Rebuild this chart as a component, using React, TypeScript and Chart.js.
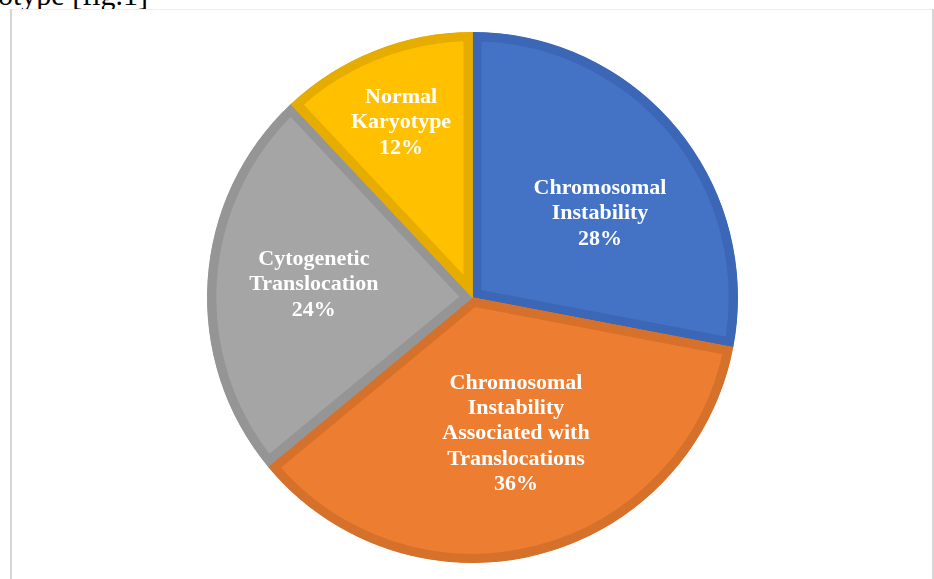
import React, { useEffect, useRef } from "react";
import { Chart, registerables } from "chart.js";

Chart.register(...registerables);

const categories = [
  ["Chromosomal", "Instability"],
  ["Chromosomal", "Instability", "Associated with", "Translocations"],
  ["Cytogenetic", "Translocation"],
  ["Normal", "Karyotype"],
];
const percentages = [28, 36, 24, 12];
const fillColors = ["#4472C4", "#ED7D31", "#A5A5A5", "#FFC000"];
const borderColors = ["#3B67B6", "#D6712C", "#959595", "#E6AC00"];
// label placement: angle offset (deg) from slice mid-angle, radius fraction
const labelAngleOffsets = [5.8, -3.5, 1.6, -0.45];
const labelRadiusFractions = [0.578, 0.533, 0.6, 0.717];

const labelPlugin = {
  id: "sliceLabels",
  afterDatasetsDraw(chart: any) {
    const ctx = chart.ctx;
    const meta = chart.getDatasetMeta(0);
    const fontSize = 22;
    const lh = 25.2;
    const capH = 0.662 * fontSize;
    ctx.save();
    ctx.font = `bold ${fontSize}px "Liberation Serif", "Times New Roman", serif`;
    ctx.fillStyle = "#FFFFFF";
    ctx.textAlign = "center";
    ctx.textBaseline = "alphabetic";
    meta.data.forEach((arc: any, i: number) => {
      const { x, y, startAngle, endAngle, outerRadius } = arc.getProps(
        ["x", "y", "startAngle", "endAngle", "outerRadius"],
        true
      );
      const mid = (startAngle + endAngle) / 2 + (labelAngleOffsets[i] * Math.PI) / 180;
      const r = outerRadius * labelRadiusFractions[i];
      const cx = x + Math.cos(mid) * r;
      const cy = y + Math.sin(mid) * r;
      const lines = [...categories[i], `${percentages[i]}%`];
      const total = capH + (lines.length - 1) * lh;
      const top = cy - total / 2;
      lines.forEach((line, j) => {
        ctx.fillText(line, cx, top + capH + j * lh);
      });
    });
    ctx.restore();
  },
};

export default function App() {
  const canvasRef = useRef<HTMLCanvasElement | null>(null);

  useEffect(() => {
    if (!canvasRef.current) return;
    const chart = new Chart(canvasRef.current, {
      type: "pie",
      data: {
        labels: categories.map((c) => c.join(" ")),
        datasets: [
          {
            data: percentages,
            backgroundColor: fillColors,
            borderColor: borderColors,
            borderWidth: 9,
            borderAlign: "inner",
          } as any,
        ],
      },
      options: {
        responsive: false,
        animation: false,
        devicePixelRatio: 1,
        layout: { padding: { top: 32, bottom: 16, left: 207, right: 196 } },
        plugins: {
          legend: { display: false },
          tooltip: { enabled: false },
        },
      },
      plugins: [labelPlugin],
    });
    return () => chart.destroy();
  }, []);

  return (
    <div style={{ position: "fixed", left: 0, top: 0, width: 934, height: 579, background: "#fff", overflow: "hidden" }}>
      <div
        style={{
          position: "absolute",
          left: 0,
          top: -20,
          width: 148,
          display: "flex",
          justifyContent: "flex-end",
          overflow: "hidden",
          fontFamily: '"Liberation Serif", "Times New Roman", serif',
          fontSize: 30,
          lineHeight: "30px",
          whiteSpace: "nowrap",
          color: "#000",
        }}
      >
        <span>Karyotype [fig.1]</span>
      </div>
      <div style={{ position: "absolute", left: 12, top: 9, width: 920, height: 1, background: "#EEEEEE" }} />
      <div style={{ position: "absolute", left: 10, top: 9, width: 2, height: 570, background: "#D6D6D6" }} />
      <div style={{ position: "absolute", left: 932, top: 9, width: 2, height: 570, background: "#D6D6D6" }} />
      <canvas
        ref={canvasRef}
        width={934}
        height={579}
        style={{ position: "absolute", left: 0, top: 0, width: 934, height: 579 }}
      />
    </div>
  );
}
